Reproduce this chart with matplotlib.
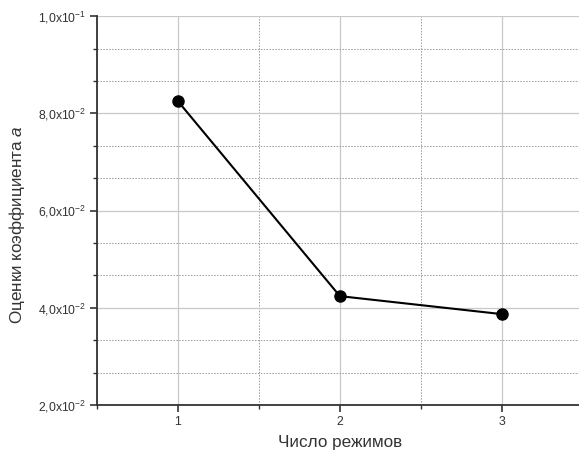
import matplotlib
matplotlib.use("Agg")
import matplotlib.pyplot as plt
from matplotlib.ticker import MultipleLocator, AutoMinorLocator

plt.rcParams['font.family'] = ['Liberation Sans', 'DejaVu Sans']
plt.rcParams['mathtext.fontset'] = 'custom'
plt.rcParams['mathtext.rm'] = 'Liberation Sans'
plt.rcParams['mathtext.it'] = 'Liberation Sans:italic'

# data
modes = [1, 2, 3]
a_est = [0.0825, 0.0424, 0.0387]
y_ticks = [0.02, 0.04, 0.06, 0.08, 0.10]
y_labels = [r'2,0x10$^{-2}$', r'4,0x10$^{-2}$', r'6,0x10$^{-2}$',
            r'8,0x10$^{-2}$', r'1,0x10$^{-1}$']

fig = plt.figure(figsize=(5.79, 4.58), dpi=100)
ax = fig.add_axes([0.1675, 0.1157, 0.839, 0.849])

ax.plot(modes, a_est, color='black', lw=1.5, marker='o', ms=8, zorder=5,
        clip_on=False)

ax.set_xlim(0.5, 3.5)
ax.set_ylim(0.02, 0.10)
ax.set_xticks(modes)
ax.xaxis.set_minor_locator(MultipleLocator(0.5))
ax.set_yticks(y_ticks)
ax.set_yticklabels(y_labels)
ax.yaxis.set_minor_locator(AutoMinorLocator(3))

ax.grid(which='major', color='#c8c8c8', lw=0.9, ls='-')
ax.grid(which='minor', color='#999999', lw=0.7, ls=(0, (1.5, 1.5)))
ax.set_axisbelow(True)

for s in ['top', 'right']:
    ax.spines[s].set_visible(False)
for s in ['left', 'bottom']:
    ax.spines[s].set_linewidth(1.3)
    ax.spines[s].set_color('#333333')

ax.tick_params(which='major', length=5, width=1.2, labelsize=8.8,
               colors='#333333', direction='out', pad=3)
ax.tick_params(which='minor', length=3, width=1.0, colors='#333333',
               direction='out')

ax.set_xlabel('Число режимов', fontsize=12.3, color='#333333', labelpad=5)
ax.set_ylabel('Оценки коэффициента $\\mathit{a}$', fontsize=12.3,
              color='#333333')
ax.yaxis.set_label_coords(-0.145, 0.463)

fig.savefig('out.png', dpi=100)
